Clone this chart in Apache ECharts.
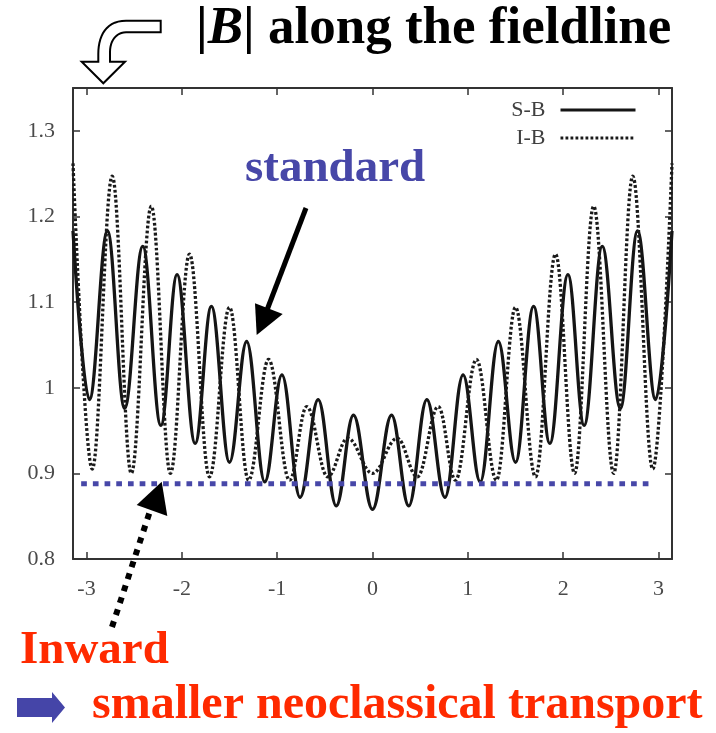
<!DOCTYPE html>
<html>
<head>
<meta charset="utf-8">
<script src="https://cdn.jsdelivr.net/npm/echarts@6/dist/echarts.min.js"></script>
<style>
  html, body { margin: 0; padding: 0; background: #ffffff; }
  #chart { width: 716px; height: 733px; }
</style>
</head>
<body>
<div id="chart"></div>
<script>
// |B| along the field line, sampled at the turning points of each ripple.
// S-B configuration
const sbTheta = [-3.1416, -2.97, -2.78, -2.60, -2.41, -2.22, -2.05, -1.86, -1.69, -1.50, -1.32, -1.13, -0.95, -0.76, -0.57, -0.38, -0.20, 0,
                 0.20, 0.38, 0.57, 0.76, 0.95, 1.13, 1.32, 1.50, 1.69, 1.86, 2.05, 2.22, 2.41, 2.60, 2.78, 2.97, 3.1416];
const sbB = [1.183, 0.986, 1.183, 0.976, 1.165, 0.956, 1.132, 0.935, 1.095, 0.913, 1.054, 0.890, 1.015, 0.872, 0.986, 0.862, 0.968, 0.858,
             0.968, 0.862, 0.986, 0.872, 1.015, 0.890, 1.054, 0.913, 1.095, 0.935, 1.132, 0.956, 1.165, 0.976, 1.183, 0.986, 1.183];

// I-B configuration
const ibTheta = [-3.1416, -2.94, -2.73, -2.53, -2.32, -2.12, -1.92, -1.71, -1.50, -1.30, -1.09, -0.87, -0.69, -0.47, -0.26, 0,
                 0.26, 0.47, 0.69, 0.87, 1.09, 1.30, 1.50, 1.71, 1.92, 2.12, 2.32, 2.53, 2.73, 2.94, 3.1416];
const ibB = [1.262, 0.905, 1.247, 0.900, 1.212, 0.900, 1.156, 0.896, 1.094, 0.892, 1.033, 0.892, 0.978, 0.896, 0.941, 0.900,
             0.941, 0.896, 0.978, 0.892, 1.033, 0.892, 1.094, 0.896, 1.156, 0.900, 1.212, 0.900, 1.247, 0.905, 1.262];

// minimum-|B| reference level of the inward-shifted case
const inwardSpan = [-3.056, 2.93];
const inwardLevel = 0.888;

const seriesNames = ['S-B', 'I-B'];
const xTicks = [-3, -2, -1, 0, 1, 2, 3];
const yTicks = [0.8, 0.9, 1.0, 1.1, 1.2, 1.3];

const SERIF = '"Liberation Serif", "Times New Roman", serif';
const FRAME = '#333333';
const LABEL = '#4a4a4a';
const BLUE = '#4747a8';
const RED = '#ff2a00';

const pairs = (xs, ys) => xs.map((x, i) => [x, ys[i]]);

// sample a cubic bezier into polygon points (for the bent hollow arrow)
function cubic(p0, p1, p2, p3, n) {
  const out = [];
  for (let i = 1; i <= n; i++) {
    const t = i / n, u = 1 - t;
    out.push([
      u * u * u * p0[0] + 3 * u * u * t * p1[0] + 3 * u * t * t * p2[0] + t * t * t * p3[0],
      u * u * u * p0[1] + 3 * u * u * t * p1[1] + 3 * u * t * t * p2[1] + t * t * t * p3[1]
    ]);
  }
  return out;
}
const bentArrow = [[160.7, 20.7], [126, 20.7]]
  .concat(cubic([126, 20.7], [106, 20.7], [98.3, 36], [98.3, 54], 14))
  .concat([[98.3, 61.7], [81.7, 61.7], [103.3, 83.3], [125, 61.7], [110, 61.7], [110, 52]])
  .concat(cubic([110, 52], [110, 41], [116, 32.3], [126, 32.3], 12))
  .concat([[160.7, 32.3]]);

const frameAxis = (extra) => Object.assign({
  type: 'value',
  splitLine: { show: false },
  axisLine: { show: true, onZero: false, lineStyle: { color: FRAME, width: 2 } },
  axisTick: { show: true, inside: true, length: 7, lineStyle: { color: FRAME, width: 1.5 } },
  axisLabel: { show: false }
}, extra);

const chart = echarts.init(document.getElementById('chart'), null, { renderer: 'canvas' });

chart.setOption({
  animation: false,
  backgroundColor: '#ffffff',
  grid: { left: 73, right: 44, top: 88, bottom: 174 },
  legend: {
    data: seriesNames,
    orient: 'vertical',
    right: 79,
    top: 99,
    padding: 0,
    align: 'right',
    itemWidth: 75,
    itemHeight: 12,
    itemGap: 6,
    itemStyle: { opacity: 0 },
    lineStyle: { width: 3 },
    textStyle: { fontFamily: SERIF, fontSize: 22, color: '#404040', padding: [0, 10, 0, 0] }
  },
  xAxis: [
    frameAxis({
      min: -Math.PI, max: Math.PI, position: 'bottom',
      axisTick: { show: true, inside: true, length: 7, customValues: xTicks, lineStyle: { color: FRAME, width: 1.5 } },
      axisLabel: { show: true, customValues: xTicks, margin: 19, fontFamily: SERIF, fontSize: 22, color: LABEL }
    }),
    frameAxis({
      min: -Math.PI, max: Math.PI, position: 'top',
      axisTick: { show: true, inside: true, length: 7, customValues: xTicks, lineStyle: { color: FRAME, width: 1.5 } }
    })
  ],
  yAxis: [
    frameAxis({
      min: 0.8, max: 1.35, position: 'left',
      axisTick: { show: true, inside: true, length: 7, customValues: yTicks, lineStyle: { color: FRAME, width: 1.5 } },
      axisLabel: { show: true, customValues: yTicks, margin: 18, fontFamily: SERIF, fontSize: 22, color: LABEL }
    }),
    frameAxis({
      min: 0.8, max: 1.35, position: 'right',
      axisTick: { show: true, inside: true, length: 7, customValues: yTicks, lineStyle: { color: FRAME, width: 1.5 } }
    })
  ],
  series: [
    {
      name: 'S-B', type: 'line', data: pairs(sbTheta, sbB),
      symbol: 'none', smooth: 0.38, smoothMonotone: 'x',
      lineStyle: { color: '#151515', width: 3.3 },
      itemStyle: { color: '#151515' },
      z: 3
    },
    {
      name: 'I-B', type: 'line', data: pairs(ibTheta, ibB),
      symbol: 'none', smooth: 0.38, smoothMonotone: 'x',
      lineStyle: { color: '#1a1a1a', width: 3.3, type: [2.8, 2.2] },
      itemStyle: { color: '#1a1a1a' },
      z: 4
    },
    {
      name: 'level', type: 'line',
      data: inwardSpan.map(x => [x, inwardLevel]),
      symbol: 'none', silent: true,
      lineStyle: { color: BLUE, width: 5, type: [5.7, 6], cap: 'butt' },
      z: 5
    }
  ],
  graphic: [
    // hollow bent arrow beside the title
    {
      type: 'polygon', z: 10,
      shape: { points: bentArrow },
      style: { fill: '#ffffff', stroke: '#000000', lineWidth: 2 }
    },
    {
      type: 'text', z: 10, x: 196, y: 29,
      style: {
        text: '|{it|B}| along the fieldline',
        fontFamily: SERIF, fontWeight: 'bold', fontSize: 53,
        fill: '#000000', align: 'left', verticalAlign: 'middle',
        rich: { it: { fontFamily: SERIF, fontWeight: 'bold', fontStyle: 'italic', fontSize: 53, fill: '#000000' } }
      }
    },
    {
      type: 'text', z: 10, x: 245, y: 168.5,
      style: { text: 'standard', fontFamily: SERIF, fontWeight: 'bold', fontSize: 47, fill: BLUE, align: 'left', verticalAlign: 'middle' }
    },
    // arrow to the standard case
    {
      type: 'line', z: 10,
      shape: { x1: 306, y1: 208, x2: 267, y2: 310 },
      style: { stroke: '#000000', lineWidth: 5 }
    },
    {
      type: 'polygon', z: 10,
      shape: { points: [[256.7, 335], [255, 303.3], [282.7, 314]] },
      style: { fill: '#000000' }
    },
    // dotted arrow to the inward level
    {
      type: 'line', z: 10,
      shape: { x1: 112, y1: 627, x2: 151, y2: 508 },
      style: { stroke: '#000000', lineWidth: 6, lineDash: [6, 6.6] }
    },
    {
      type: 'polygon', z: 10,
      shape: { points: [[161.7, 481.7], [136.7, 505], [167.3, 516]] },
      style: { fill: '#000000' }
    },
    {
      type: 'text', z: 10, x: 20, y: 651,
      style: { text: 'Inward', fontFamily: SERIF, fontWeight: 'bold', fontSize: 47, fill: RED, align: 'left', verticalAlign: 'middle' }
    },
    {
      type: 'polygon', z: 10,
      shape: { points: [[17, 698], [52, 698], [52, 692], [65, 707.5], [52, 723], [52, 717], [17, 717]] },
      style: { fill: '#4545a8' }
    },
    {
      type: 'text', z: 10, x: 92, y: 706,
      style: { text: 'smaller neoclassical transport', fontFamily: SERIF, fontWeight: 'bold', fontSize: 48, fill: RED, align: 'left', verticalAlign: 'middle' }
    }
  ]
});
</script>
</body>
</html>
